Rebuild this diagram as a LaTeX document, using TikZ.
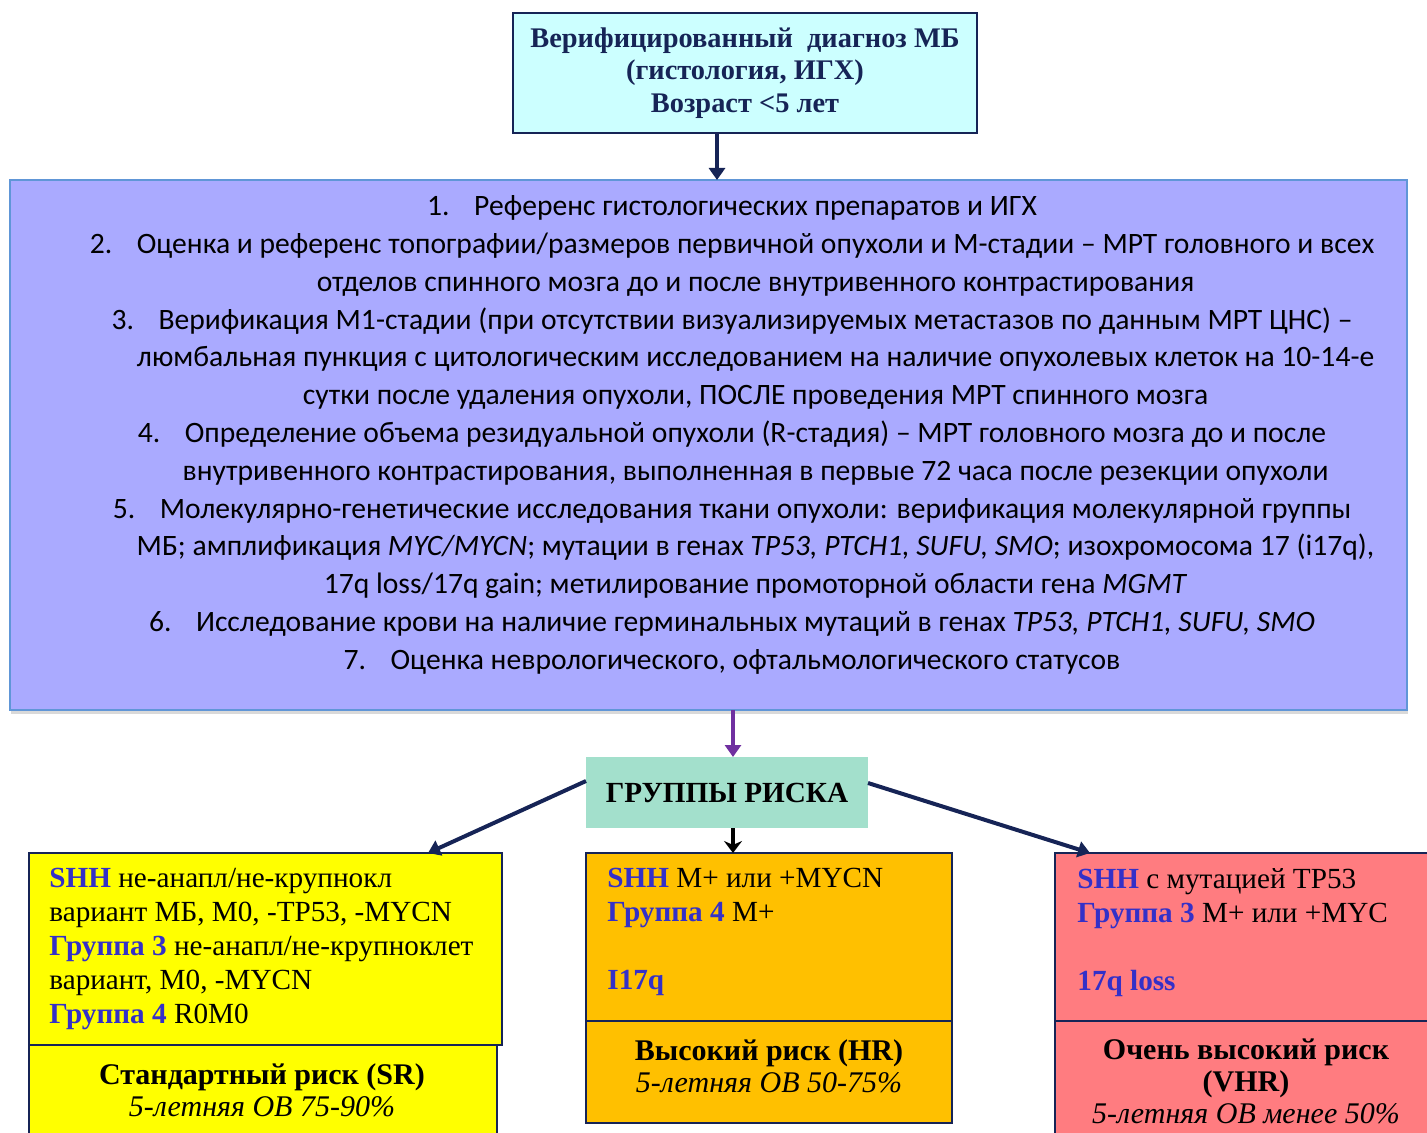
\documentclass[tikz,border=0pt]{standalone}
\usepackage{fontspec}
\setmainfont{Liberation Serif}
\newfontfamily\listfont{Carlito}
\usepackage{tikz}
\usetikzlibrary{arrows.meta,shadows}
\definecolor{navy}{RGB}{22,36,86}
\definecolor{topfill}{RGB}{204,255,255}
\definecolor{listfill}{RGB}{170,170,255}
\definecolor{listline}{RGB}{96,150,215}
\definecolor{riskfill}{RGB}{163,224,204}
\definecolor{srfill}{RGB}{255,255,0}
\definecolor{hrfill}{RGB}{255,192,0}
\definecolor{vhrfill}{RGB}{255,124,128}
\definecolor{grpblue}{RGB}{52,48,200}
\definecolor{purp}{RGB}{112,48,160}
\newcommand{\px}{0.5pt}
\newcommand{\outers}{0.8pt}
\newcommand{\grp}[1]{\textcolor{grpblue}{\textbf{#1}}}
\newcommand{\itm}[1]{\makebox[23.5pt][l]{#1}}
\newcommand{\hang}{\hspace*{23.5pt}}

\begin{document}
\begin{tikzpicture}[x=\px,y=-\px]
            \tikzset{Box/.style = {anchor=north west, inner sep=0pt, outer sep=0pt, draw=navy, line width=\outers},
                     BoxText/.style = {anchor=north west, inner sep=0pt, align=left, font=\fontsize{14.6}{17}\selectfont},
                     RiskText/.style = {inner sep=0pt, align=center, font=\fontsize{15}{16}\selectfont},
                     Link/.style = {draw=navy, line width=2pt, -{Triangle[length=6pt,width=8pt]}}}
            \useasboundingbox (0,0) rectangle (1427,1133);
            \node[Box, fill=topfill, line width=1pt, minimum width=232pt, minimum height=60pt,
                  font=\bfseries\fontsize{14.2}{16.2}\selectfont, text=navy, align=center] (dx) at (513,13)
                  {Верифицированный\ \ диагноз МБ\\(гистология, ИГХ)\\Возраст <5 лет};
            \node[Box, draw=listline, line width=1pt, fill=listfill, minimum width=698.5pt, minimum height=265pt,
                  drop shadow={shadow xshift=0.5pt, shadow yshift=-2pt, opacity=0.3}] (work) at (10,180) {};
            \node[inner sep=0pt, align=center, font=\listfont\fontsize{14.8}{18.9}\selectfont] (steps) at (732,435)
                  {\itm{1.}Референс гистологических препаратов и ИГХ\\
                   \itm{2.}Оценка и референс топографии/размеров первичной опухоли и М-стадии – МРТ головного и всех\\
                   \hang отделов спинного мозга до и после внутривенного контрастирования\\
                   \itm{3.}Верификация М1-стадии (при отсутствии визуализируемых метастазов по данным МРТ ЦНС) –\\
                   \hang люмбальная пункция с цитологическим исследованием на наличие опухолевых клеток на 10-14-е\\
                   \hang сутки после удаления опухоли, ПОСЛЕ проведения МРТ спинного мозга\\
                   \itm{4.}Определение объема резидуальной опухоли (R-стадия) – МРТ головного мозга до и после\\
                   \hang внутривенного контрастирования, выполненная в первые 72 часа после резекции опухоли\\
                   \itm{5.}Молекулярно-генетические исследования ткани опухоли: верификация молекулярной группы\\
                   \hang МБ; амплификация \textit{MYC/MYCN}; мутации в генах \textit{TP53, PTCH1, SUFU, SMO}; изохромосома 17 (i17q),\\
                   \hang 17q loss/17q gain; метилирование промоторной области гена \textit{MGMT}\\
                   \itm{6.}Исследование крови на наличие герминальных мутаций в генах \textit{TP53, PTCH1, SUFU, SMO}\\
                   \itm{7.}Оценка неврологического, офтальмологического статусов};
            \node[Box, draw=none, fill=riskfill, minimum width=141pt, minimum height=35.5pt,
                  font=\bfseries\fontsize{14.6}{16}\selectfont] (risk) at (586,757) {ГРУППЫ РИСКА};
            \node[Box, fill=srfill, minimum width=236.5pt, minimum height=96pt] (sr) at (29,853) {};
            \node[Box, fill=srfill, minimum width=234pt, minimum height=50pt] (srcap) at (29,1045) {};
            \node[Box, fill=hrfill, minimum width=183pt, minimum height=84pt] (hr) at (586,853) {};
            \node[Box, fill=hrfill, minimum width=183pt, minimum height=51pt] (hrcap) at (586,1021) {};
            \node[Box, fill=vhrfill, minimum width=200pt, minimum height=84pt] (vhr) at (1055,853) {};
            \node[Box, fill=vhrfill, minimum width=200pt, minimum height=62pt] (vhrcap) at (1055,1021) {};
            \node[BoxText] (srtext) at (49,868)
                  {\grp{SHH} не-анапл/не-крупнокл\\вариант МБ, М0, -ТР53, -MYCN\\\grp{Группа 3} не-анапл/не-крупноклет\\
                   вариант, М0, -MYCN\\\grp{Группа 4} R0M0};
            \node[BoxText] (hrtext) at (607,868)
                  {\grp{SHH} M+ или +MYCN\\\grp{Группа 4} M+\\[17pt]\grp{I17q}};
            \node[BoxText] (vhrtext) at (1077,868)
                  {\grp{SHH} с мутацией ТР53\\\grp{Группа 3} М+ или +MYC\\[17pt]\grp{17q loss}};
            \node[RiskText] (srlabel) at (262,1090) {\textbf{Стандартный риск (SR)}\\\textit{5-летняя ОВ 75-90\%}};
            \node[RiskText] (hrlabel) at (769,1066) {\textbf{Высокий риск (HR)}\\\textit{5-летняя ОВ 50-75\%}};
            \node[RiskText] (vhrlabel) at (1246,1081) {\textbf{Очень высокий риск}\\\textbf{(VHR)}\\\textit{5-летняя ОВ менее 50\%}};
            \draw[Link, line width=2.4pt] ([xshift=-14pt]dx.south) -- ([xshift=-14pt]dx.south |- work.north);
            \draw[Link, draw=purp, line width=1.6pt] ([xshift=3pt]risk.north |- work.south) -- ([xshift=3pt]risk.north);
            \draw[Link, draw=black, -{Stealth[length=6pt,width=9pt]}] ([xshift=3pt]risk.south) -- ([xshift=3pt]risk.south |- hr.north);
            \draw[Link] ([yshift=5.75pt]risk.west) -- ([xshift=-37pt]sr.north east);
            \draw[Link] ([yshift=4.75pt]risk.east) -- ([xshift=17.5pt]vhr.north west);
\end{tikzpicture}
\end{document}
